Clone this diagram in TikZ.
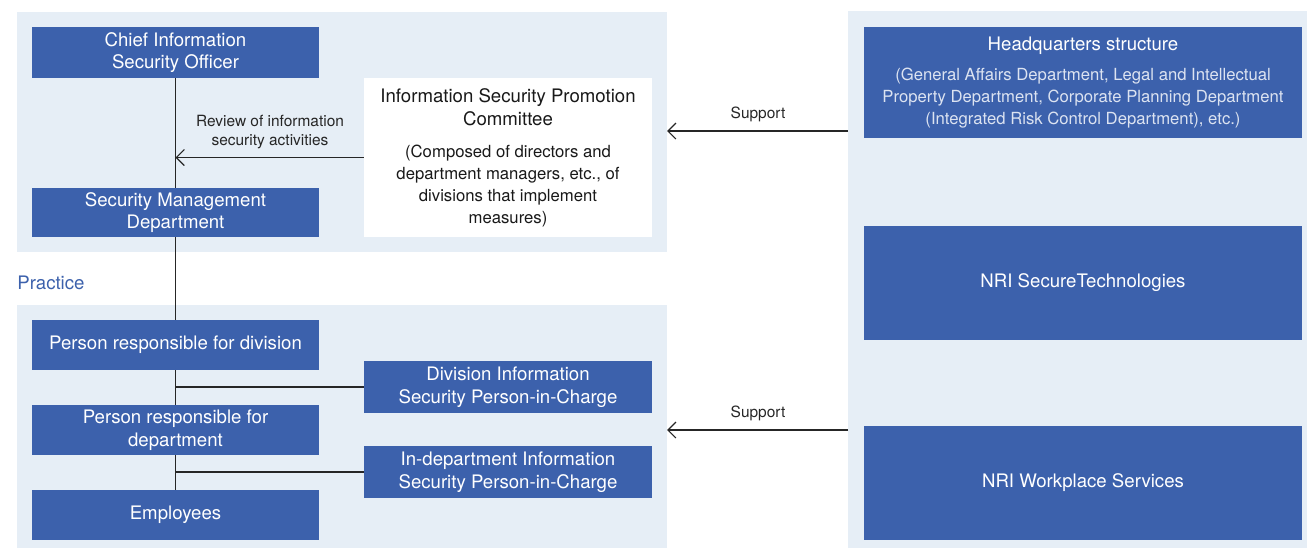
\documentclass[tikz,border=0pt]{standalone}
\usepackage{fontspec}
\setmainfont{TeX Gyre Heros}
\usetikzlibrary{arrows.meta,positioning}

\definecolor{nriblue}{HTML}{3C61AC}
\definecolor{panelbg}{HTML}{E6EEF6}
\definecolor{subtext}{HTML}{DCE3F1}

\newcommand{\boxfont}{\fontsize{10.6}{12.3}\selectfont}
\newcommand{\subfont}{\fontsize{9.5}{12.4}\selectfont}
\newcommand{\labelfont}{\fontsize{8.8}{10.8}\selectfont}

\tikzset{
  panel/.style={fill=panelbg, draw=none},
  bluebox/.style={fill=nriblue, text=white, align=center, inner sep=0pt,
    minimum width=5.74cm, minimum height=1cm, font=\boxfont},
  widebox/.style={bluebox, minimum width=8.76cm, minimum height=2.28cm},
  whitebox/.style={fill=white, text=black!90, align=center, inner sep=0pt,
    minimum width=5.76cm, minimum height=3.18cm, font=\subfont},
  link/.style={line width=0.7pt, draw=black!85},
  arrowlink/.style={link, -{Straight Barb[length=1.6mm,width=3.2mm]}},
  smalllabel/.style={font=\labelfont, align=center, text=black!85, inner sep=0pt},
}

\begin{document}
\begin{tikzpicture}[x=0.02cm,y=-0.02cm]
    \useasboundingbox (0,0) rectangle (1307,548);

    % Draw the background panels
    \fill[panel] (17,12) rectangle (667,252);
    \fill[panel] (17,305) rectangle (667,548);
    \fill[panel] (848,11) rectangle (1307,548);

    % Left column
    \node[bluebox, minimum height=1.02cm] (ciso) at (175.5,52.5) {Chief Information\\Security Officer};
    \node[bluebox, minimum height=0.98cm] (smd) at (175.5,212.5) {Security Management\\Department};
    \node[whitebox] (committee) at (508,157.5)
        {\boxfont Information Security Promotion\\[1pt]\boxfont Committee\\[6pt]
         (Composed of directors and\\department managers, etc., of\\divisions that implement\\measures)};

    \node[font=\boxfont, text=nriblue, anchor=west, inner sep=0pt] (practice) at (17,283) {Practice};

    \node[bluebox] (division) at (175.5,345) {Person responsible for division};
    \node[bluebox, minimum width=5.76cm, minimum height=1.04cm] (divpic) at (508,387)
        {Division Information\\[1pt]Security Person-in-Charge};
    \node[bluebox] (dept) at (175.5,430) {Person responsible for\\[1pt]department};
    \node[bluebox, minimum width=5.76cm, minimum height=1.04cm] (deptpic) at (508,472)
        {In-department Information\\[1pt]Security Person-in-Charge};
    \node[bluebox] (staff) at (175.5,515) {Employees};

    % Right column
    \node[widebox, minimum height=2.22cm, font=\subfont, text=subtext] (hq) at (1083,82.5)
        {\boxfont\color{white}Headquarters structure\\[5pt]
         (General Affairs Department, Legal and Intellectual\\
         Property Department, Corporate Planning Department\\
         (Integrated Risk Control Department), etc.)};
    \node[widebox] (secure) at (1083,283) {NRI SecureTechnologies};
    \node[widebox] (workplace) at (1083,483) {NRI Workplace Services};

    % Connectors
    \draw[link] (ciso.south) -- (smd.north);
    \draw[link] (smd.south) -- (division.north);
    \draw[link] (division.south) -- (dept.north);
    \draw[link] (dept.south) -- (staff.north);
    \draw[arrowlink] (committee.west) -- (committee.west -| ciso.south);
    \draw[link] (divpic.west) -- (divpic.west -| division.south);
    \draw[link] (deptpic.west) -- (deptpic.west -| dept.south);

    \coordinate (hqout) at (848,131);
    \coordinate (hqin) at (667,131);
    \coordinate (wpout) at (848,430);
    \coordinate (wpin) at (667,430);
    \draw[arrowlink] (hqout) -- (hqin);
    \draw[arrowlink] (wpout) -- (wpin);

    % Labels
    \node[smalllabel] (reviewlabel) at (270,132) {Review of information\\security activities};
    \node[smalllabel] (supportone) at (758,114) {Support};
    \node[smalllabel] (supporttwo) at (758,413) {Support};

\end{tikzpicture}
\end{document}
